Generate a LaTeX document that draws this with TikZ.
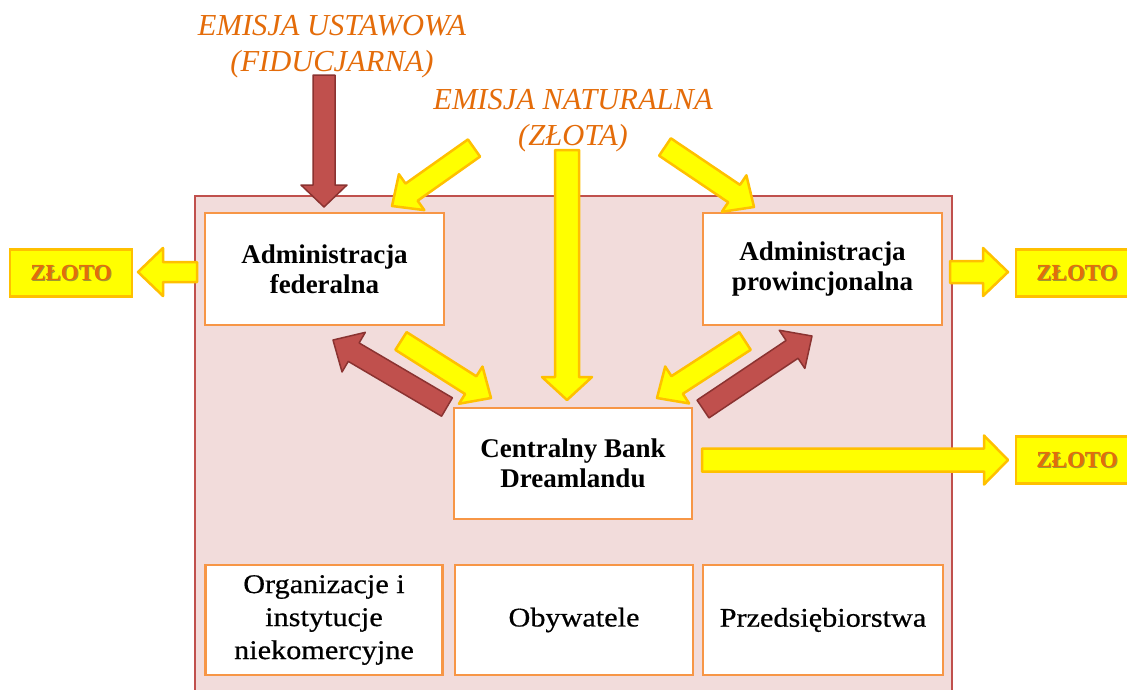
\documentclass[tikz,border=0pt]{standalone}
\usepackage{fontspec}
\setmainfont{Liberation Serif}
\usetikzlibrary{calc}
\definecolor{pinkbg}{HTML}{F2DCDB}
\definecolor{redbd}{HTML}{C0504D}
\definecolor{orbd}{HTML}{F79646}
\definecolor{redar}{HTML}{C0504D}
\definecolor{redarbd}{HTML}{8B3331}
\definecolor{yel}{HTML}{FFFF00}
\definecolor{yelbd}{HTML}{FFC000}
\definecolor{ortext}{HTML}{E46C0A}
\definecolor{shadowc}{HTML}{A09A30}
\newcommand\blockarrow[6]{%
  \coordinate (bahb) at ($(#3)!#6!(#2)$);
  \draw[#1] ($(#2)!#4!90:(#3)$) -- ($(bahb)!#4!90:(#3)$) -- ($(bahb)!#5!90:(#3)$) -- (#3)
    -- ($(bahb)!#5!-90:(#3)$) -- ($(bahb)!#4!-90:(#3)$) -- ($(#2)!#4!-90:(#3)$) -- cycle;
}
\newcommand\zltext{{\makebox[0pt][l]{\raisebox{-1pt}{\hspace{1pt}\color{shadowc}ZŁOTO}}\color{ortext}ZŁOTO}}
\begin{document}
\begin{tikzpicture}[x=1pt,y=-1pt,
  box/.style={draw=orbd, line width=2.5pt, fill=white, align=center, inner sep=0pt,
    minimum width=239pt, minimum height=112pt, font=\fontsize{27}{30}\selectfont\bfseries},
  lowbox/.style={box, minimum height=110pt,
    font=\fontsize{27}{33}\selectfont\addfontfeature{FakeStretch=1.12,FakeBold=0.6}},
  zloto/.style={draw=yelbd, fill=yel, line width=2.5pt, minimum width=122pt, minimum height=47pt,
    inner sep=0pt, font=\fontsize{23}{27}\selectfont\bfseries},
  title/.style={text=ortext, align=center, inner sep=0pt, font=\fontsize{30.5}{36}\selectfont\itshape},
  yarrow/.style={fill=yel, draw=yelbd, line width=2.5pt, line join=round},
  rarrow/.style={fill=redar, draw=redarbd, line width=1.5pt, line join=round}
]
\clip (0,0) rectangle (1127,689);
\fill[white] (0,0) rectangle (1127,689);
% container
\draw[fill=pinkbg, draw=redbd, line width=2pt] (195,196) rectangle (952,720);
% boxes
\node[box] (fed) at (324.5,269) {Administracja\\federalna};
\node[box] (prov) at (822.5,269) {Administracja\\prowincjonalna};
\node[box, minimum width=238pt, minimum height=111pt] (bank) at (573,463.5) {Centralny Bank\\Dreamlandu};
\node[lowbox, minimum width=237pt] (org) at (324,620) {Organizacje i\\instytucje\\niekomercyjne};
\node[lowbox, minimum width=238pt] (oby) at (574,620) {Obywatele};
\node[lowbox, minimum width=240pt] (prz) at (823,620) {Przedsiębiorstwa};
% zloto boxes
\node[zloto] (zl1) at (71,273) {\zltext};
\node[zloto] (zl2) at (1077,273) {\zltext};
\node[zloto] (zl3) at (1077,460) {\zltext};
% titles
\node[title] (tu) at (332,47) {EMISJA USTAWOWA\\(FIDUCJARNA)};
\node[title] (tn) at (573,121) {EMISJA NATURALNA\\(ZŁOTA)};
% arrow end points
\coordinate (ra1s) at (324,75);   \coordinate (ra1e) at (324,207);
\coordinate (ya1s) at (474,148);  \coordinate (ya1e) at (392,206);
\coordinate (ya2s) at (567,150);  \coordinate (ya2e) at (567,400);
\coordinate (ya3s) at (665,147);  \coordinate (ya3e) at (754,207);
\coordinate (ya4s) at (197,272);  \coordinate (ya4e) at (138,272);
\coordinate (ya5s) at (950,272);  \coordinate (ya5e) at (1008,272);
\coordinate (ya6s) at (702,460);  \coordinate (ya6e) at (1008,460);
\coordinate (ra2s) at (447,407);  \coordinate (ra2e) at (333,340);
\coordinate (ya7s) at (401,341);  \coordinate (ya7e) at (491,398);
\coordinate (ya8s) at (745,341);  \coordinate (ya8e) at (657,398);
\coordinate (ra3s) at (703,409);  \coordinate (ra3e) at (812,336);
% arrows
\blockarrow{rarrow}{ra1s}{ra1e}{11pt}{23pt}{22pt}
\blockarrow{yarrow}{ya1s}{ya1e}{10.5pt}{22pt}{24pt}
\blockarrow{yarrow}{ya2s}{ya2e}{12pt}{25pt}{23pt}
\blockarrow{yarrow}{ya3s}{ya3e}{10.5pt}{22pt}{24pt}
\blockarrow{yarrow}{ya4s}{ya4e}{10pt}{24pt}{25pt}
\blockarrow{yarrow}{ya5s}{ya5e}{11pt}{24pt}{25pt}
\blockarrow{yarrow}{ya6s}{ya6e}{11.5pt}{24.5pt}{24pt}
\blockarrow{rarrow}{ra2s}{ra2e}{10.7pt}{23pt}{24pt}
\blockarrow{yarrow}{ya7s}{ya7e}{10.5pt}{22pt}{24pt}
\blockarrow{yarrow}{ya8s}{ya8e}{10.5pt}{22pt}{24pt}
\blockarrow{rarrow}{ra3s}{ra3e}{10.7pt}{23pt}{24pt}
\end{tikzpicture}
\end{document}
